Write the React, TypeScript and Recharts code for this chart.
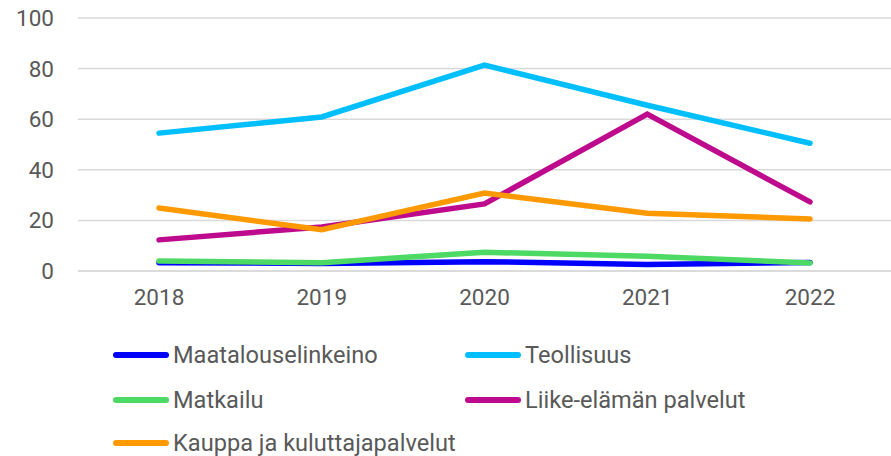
import { LineChart, Line, XAxis, YAxis, CartesianGrid } from "recharts";

const years = ["2018", "2019", "2020", "2021", "2022"];
const maatalous = [3.3, 3.0, 3.7, 2.6, 3.4];
const teollisuus = [54.5, 60.9, 81.4, 65.5, 50.5];
const matkailu = [4.0, 3.3, 7.4, 5.8, 3.2];
const liike = [12.3, 17.4, 26.5, 62.0, 27.3];
const kauppa = [24.9, 16.3, 30.8, 22.8, 20.6];
const yTicks = [0, 20, 40, 60, 80, 100];

const series = [
  { key: "maatalous", name: "Maatalouselinkeino", color: "#0000ff", values: maatalous },
  { key: "teollisuus", name: "Teollisuus", color: "#00bfff", values: teollisuus },
  { key: "matkailu", name: "Matkailu", color: "#4cd964", values: matkailu },
  { key: "liike", name: "Liike-elämän palvelut", color: "#be0a8c", values: liike },
  { key: "kauppa", name: "Kauppa ja kuluttajapalvelut", color: "#ff9900", values: kauppa },
];

const data = years.map((year, i) => {
  const row: Record<string, string | number> = { year };
  series.forEach((s) => (row[s.key] = s.values[i]));
  return row;
});

const font = "Roboto, sans-serif";
const textColor = "#595959";

// draw order: later ones sit on top
const drawOrder = ["maatalous", "teollisuus", "liike", "kauppa", "matkailu"];

const App = () => {
  return (
    <div style={{ position: "absolute", left: 0, top: 0, width: 891, height: 456, fontFamily: font }}>
      <LineChart width={891} height={456} data={data} margin={{ top: 18, right: 0, bottom: 155, left: 0 }}>
        <CartesianGrid vertical={false} stroke="#d9d9d9" strokeWidth={1.5} />
        <XAxis
          dataKey="year"
          padding={{ left: 81, right: 81 }}
          axisLine={{ stroke: "#d9d9d9", strokeWidth: 1.5 }}
          tickLine={false}
          tickMargin={12}
          tick={{ fill: textColor, fontSize: 22.5, fontFamily: font }}
        />
        <YAxis
          width={78}
          domain={[0, 100]}
          ticks={yTicks}
          axisLine={false}
          tickLine={false}
          tickMargin={18}
          tick={{ fill: textColor, fontSize: 22.5, fontFamily: font }}
        />
        {drawOrder.map((k) => {
          const s = series.find((x) => x.key === k)!;
          return (
            <Line
              key={s.key}
              dataKey={s.key}
              name={s.name}
              stroke={s.color}
              strokeWidth={5.5}
              strokeLinecap="round"
              dot={false}
              activeDot={false}
              isAnimationActive={false}
            />
          );
        })}
      </LineChart>
      {series.map((s, i) => {
        const col = i % 2;
        const row = Math.floor(i / 2);
        const left = col === 0 ? 113 : 465;
        const top = [355, 400, 443][row];
        return (
          <div
            key={s.key}
            style={{ position: "absolute", left, top: top - 15, height: 30, display: "flex", alignItems: "center" }}
          >
            <div style={{ width: 56, height: 6, borderRadius: 3, background: s.color, marginRight: 4 }} />
            <span style={{ fontSize: 23.6, color: textColor, whiteSpace: "nowrap" }}>{s.name}</span>
          </div>
        );
      })}
    </div>
  );
};

export default App;
